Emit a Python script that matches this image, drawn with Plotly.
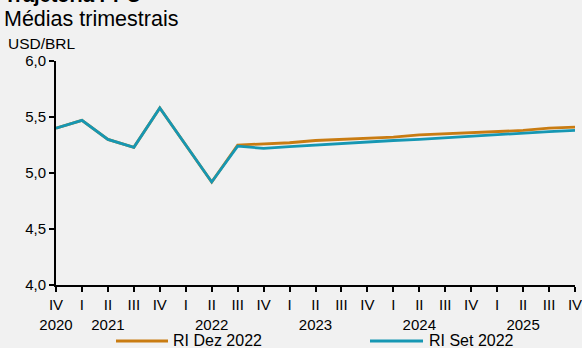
import plotly.graph_objects as go

# Quarterly tick labels (quarter on top, year under the second quarter)
quarters = ["IV", "I", "II", "III", "IV", "I", "II", "III", "IV", "I", "II",
            "III", "IV", "I", "II", "III", "IV", "I", "II", "III", "IV"]
years = ["2020", "", "2021", "", "", "", "2022", "", "", "", "2023",
         "", "", "", "2024", "", "", "", "2025", "", ""]

# USD/BRL PPP trajectory, quarterly averages
ri_dez_2022 = [5.40, 5.47, 5.30, 5.23, 5.58, 5.25, 4.92, 5.25, 5.26, 5.27, 5.29,
               5.30, 5.31, 5.32, 5.34, 5.35, 5.36, 5.37, 5.38, 5.40, 5.41]
ri_set_2022 = [5.40, 5.47, 5.30, 5.23, 5.58, 5.25, 4.92, 5.24, 5.22, 5.235, 5.25,
               5.265, 5.28, 5.29, 5.30, 5.315, 5.33, 5.34, 5.355, 5.37, 5.38]
series_names = ["RI Dez 2022", "RI Set 2022"]

x = list(range(len(quarters)))
ticktext = [q + ("<br>" + y if y else "") for q, y in zip(quarters, years)]

FONT = "Liberation Sans, Arial, sans-serif"
ORANGE = "#C97C12"
BLUE = "#1697B3"

# plot area in pixels (for placing the header and legend in paper units)
L, R, T, B = 56, 575, 61, 285
W, H = R - L, B - T


def px(xp):
    return (xp - L) / W


def py(yp):
    return (B - yp) / H


fig = go.Figure()
fig.add_trace(go.Scatter(x=x, y=ri_dez_2022, name=series_names[0], mode="lines",
                         line=dict(color=ORANGE, width=2.8)))
fig.add_trace(go.Scatter(x=x, y=ri_set_2022, name=series_names[1], mode="lines",
                         line=dict(color=BLUE, width=2.8)))

# soft light bands in the background
bands = [
    "M 270,0 L 330,0 L 60,348 L 0,348 L 0,300 Z",
    "M 470,0 L 520,0 L 240,348 L 190,348 Z",
    "M 582,150 L 582,348 L 430,348 Z",
]
shapes = []
for p in bands:
    shapes.append(dict(type="path", xref="paper", yref="paper", layer="below",
                       path=p, fillcolor="rgba(255,255,255,0.5)", line=dict(width=0)))

# legend drawn below the axis: line sample + label per series
legend_items = [(series_names[0], ORANGE, 116, 168, 171),
                (series_names[1], BLUE, 370, 423, 427)]
annotations = []
for name, color, x0, x1, xt in legend_items:
    shapes.append(dict(type="line", xref="paper", yref="paper", x0=px(x0), x1=px(x1),
                       y0=py(341), y1=py(341), line=dict(color=color, width=3)))
    annotations.append(dict(text=name, xref="paper", yref="paper", x=px(xt), y=py(340),
                            xanchor="left", yanchor="middle", showarrow=False,
                            font=dict(size=16)))

annotations += [
    dict(text="<b>Trajetória PPC</b>", xref="paper", yref="paper", x=px(2),
         y=py(-5), xanchor="left", yanchor="middle", showarrow=False, font=dict(size=20)),
    dict(text="Médias trimestrais", xref="paper", yref="paper", x=px(2),
         y=py(19), xanchor="left", yanchor="middle", showarrow=False, font=dict(size=21.5)),
    dict(text="USD/BRL", xref="paper", yref="paper", x=px(6),
         y=py(43), xanchor="left", yanchor="middle", showarrow=False, font=dict(size=15.5)),
]

fig.update_layout(
    width=582, height=348,
    margin=dict(l=L, r=582 - R, t=T, b=348 - B, autoexpand=False),
    paper_bgcolor="#f1f1f1",
    plot_bgcolor="rgba(0,0,0,0)",
    font=dict(family=FONT, size=15, color="#000000"),
    separators=",.",
    showlegend=False,
    xaxis=dict(range=[0, 20], tickmode="array", tickvals=x, ticktext=ticktext,
               showgrid=False, zeroline=False, showline=True, linecolor="#000000",
               linewidth=2, ticks="outside", ticklen=5, tickwidth=2, tickcolor="#000000",
               tickangle=0, tickfont=dict(size=15), ticklabeloverflow="allow",
               automargin=False),
    yaxis=dict(range=[4, 6], tickvals=[4, 4.5, 5, 5.5, 6], tickformat=".1f",
               showgrid=False, zeroline=False, showline=True, linecolor="#000000",
               linewidth=2, ticks="outside", ticklen=5, tickwidth=2, tickcolor="#000000",
               tickfont=dict(size=15), automargin=False),
    annotations=annotations,
    shapes=shapes,
)

fig.write_html("out.html")
